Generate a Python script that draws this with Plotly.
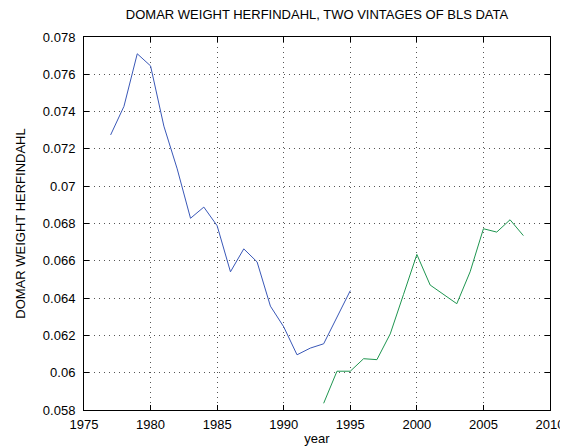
import plotly.graph_objs as go

# Domar weight Herfindahl, old BLS vintage
years_old = list(range(1977, 1996))
herf_old = [0.07275, 0.07428, 0.07710, 0.07645, 0.07322, 0.07093, 0.06828,
            0.06888, 0.06788, 0.06541, 0.06664, 0.06594, 0.06357, 0.06246,
            0.06096, 0.06132, 0.06155, 0.06299, 0.06440]

# Domar weight Herfindahl, new BLS vintage
years_new = list(range(1993, 2009))
herf_new = [0.05836, 0.06008, 0.06008, 0.06075, 0.06070, 0.06208, 0.06420,
            0.06634, 0.06470, 0.06420, 0.06370, 0.06541, 0.06772, 0.06754,
            0.06820, 0.06735]

x_ticks = [1975, 1980, 1985, 1990, 1995, 2000, 2005, 2010]
y_ticks = [0.058, 0.060, 0.062, 0.064, 0.066, 0.068, 0.070, 0.072, 0.074,
           0.076, 0.078]
y_ticktext = ["0.058", "0.06", "0.062", "0.064", "0.066", "0.068", "0.07",
              "0.072", "0.074", "0.076", "0.078"]

font_name = "Liberation Sans, Arial, sans-serif"

fig = go.Figure()
fig.add_trace(go.Scatter(x=years_old, y=herf_old, mode="lines",
                         line=dict(color="#3a58b8", width=1), showlegend=False))
fig.add_trace(go.Scatter(x=years_new, y=herf_new, mode="lines",
                         line=dict(color="#1f9650", width=1), showlegend=False))

# MATLAB-like boxed axes with dotted grid
axis_style = dict(
    showline=True, linecolor="black", linewidth=1, mirror="allticks",
    ticks="inside", ticklen=5, tickcolor="black",
    showgrid=True, gridcolor="#555555", griddash="1px,4px", gridwidth=1,
    zeroline=False, tickfont=dict(family=font_name, size=13, color="black"),
)

fig.update_xaxes(range=[1975, 2010], tickvals=x_ticks, ticklabelstandoff=2,
                 title=dict(text="year", standoff=3,
                            font=dict(family=font_name, size=13, color="black")),
                 **axis_style)
fig.update_yaxes(range=[0.058, 0.078], tickvals=y_ticks, ticktext=y_ticktext,
                 ticklabelstandoff=5,
                 title=dict(text="DOMAR WEIGHT HERFINDAHL", standoff=14,
                            font=dict(family=font_name, size=13, color="black")),
                 **axis_style)

fig.update_layout(
    width=568, height=448,
    margin=dict(l=74, r=15, t=29, b=42),
    paper_bgcolor="white", plot_bgcolor="white",
    title=dict(text="DOMAR WEIGHT HERFINDAHL, TWO VINTAGES OF BLS DATA",
               x=0.5, xref="paper", y=0.996, yanchor="top",
               font=dict(family=font_name, size=13, color="black")),
    font=dict(family=font_name),
)

fig.write_html("out.html")
